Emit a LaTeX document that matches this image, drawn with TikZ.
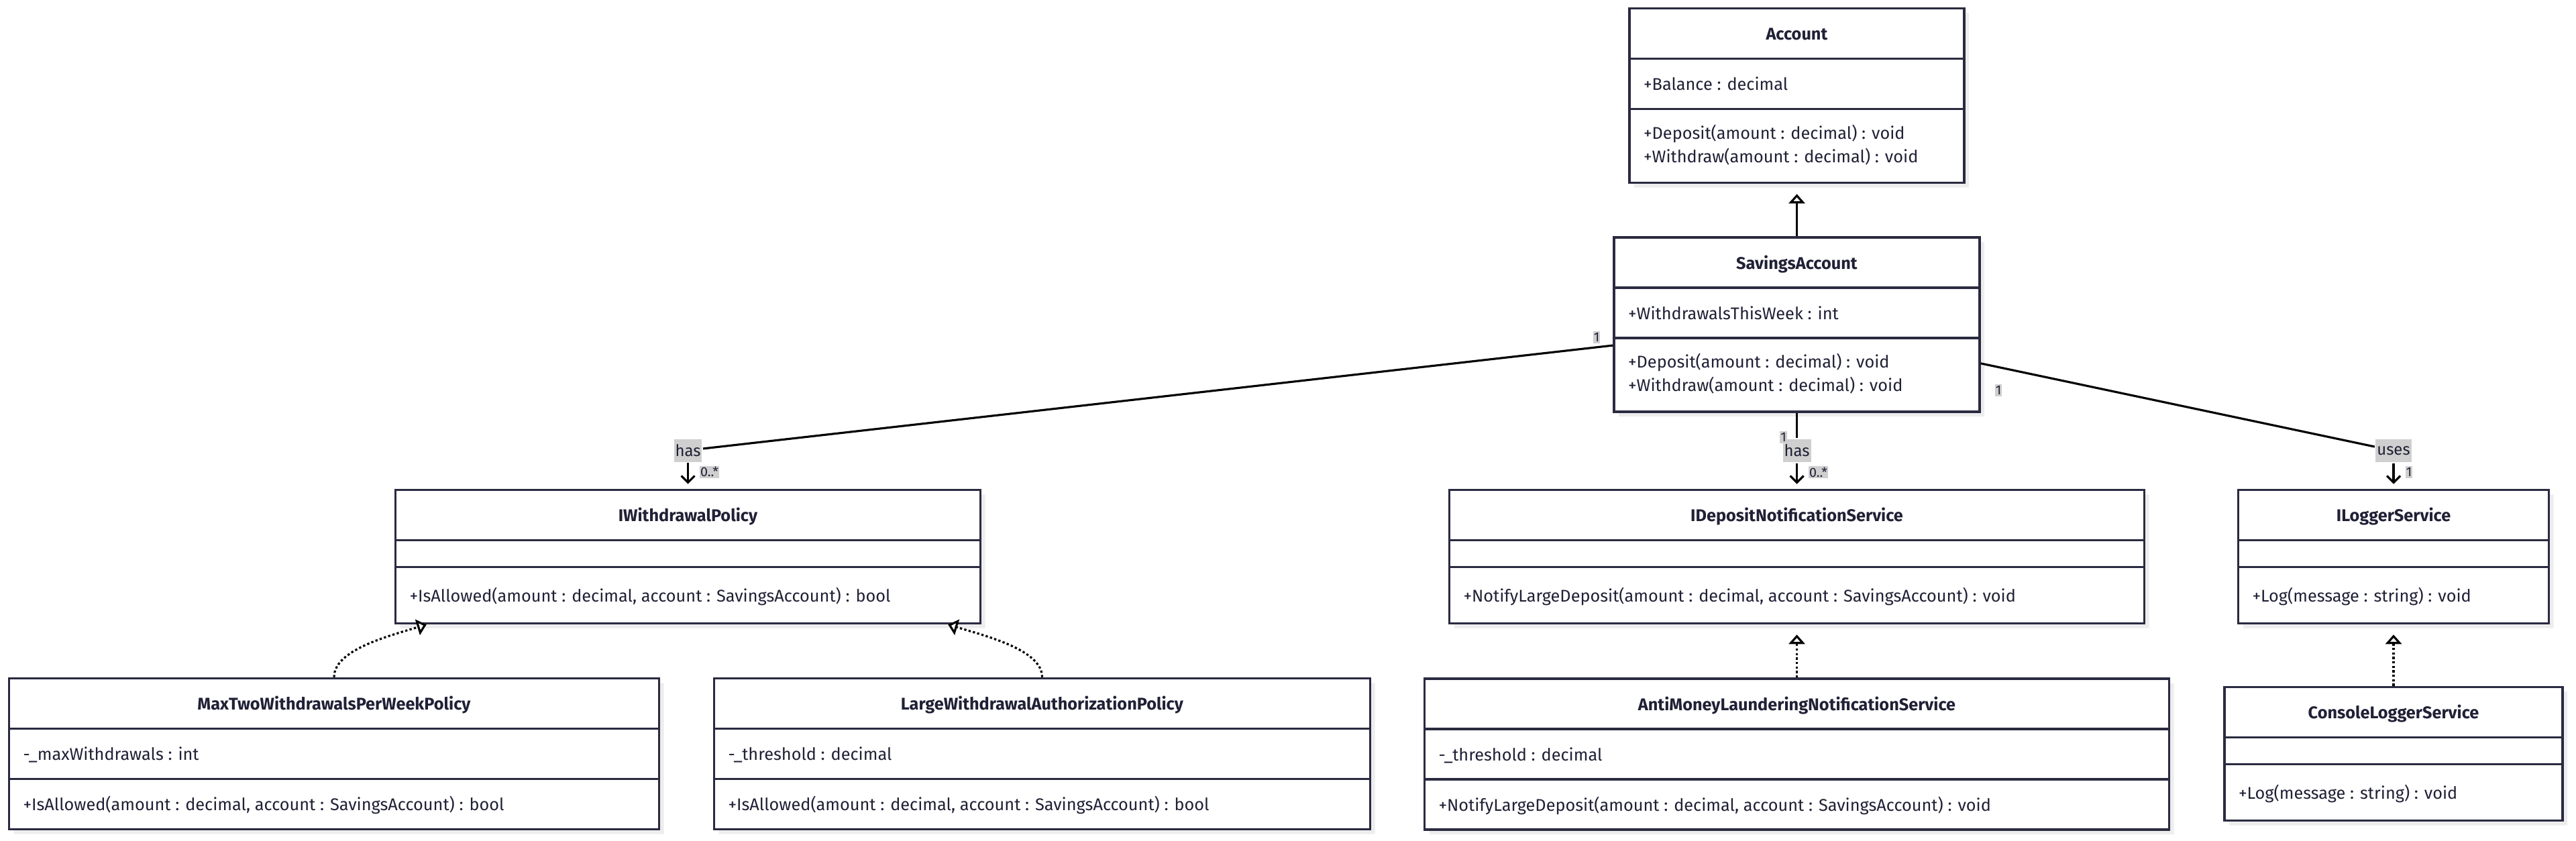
\documentclass[tikz,border=0pt]{standalone}
\usepackage{fontspec}
\setmainfont{Fira Sans}
\usetikzlibrary{arrows.meta, positioning, shapes.multipart, shadows}
\definecolor{classline}{HTML}{2A2A40}
\definecolor{classtext}{HTML}{202036}
\definecolor{labelgray}{HTML}{CFCFCF}
\newcommand{\partstrut}{\rule[-0.262cm]{0pt}{0.715cm}}
\newcommand{\ifacestrut}{\rule[-0.307cm]{0pt}{0.805cm}}
\newcommand{\emptystrut}{\rule{0pt}{0.365cm}}

\begin{document}
\begin{tikzpicture}[auto, node distance=2cm, >={Straight Barb[length=0.1cm, width=0.2cm]}, line width=0.9pt]
        % Definición de estilos para las clases y las etiquetas
        \tikzstyle{classbox} = [draw=classline, line width=1pt, fill=white, text=classtext,
          rectangle split, rectangle split parts=3, rectangle split part align={center, left, left},
          rectangle split empty part height=0.365cm, rectangle split empty part depth=0pt,
          inner xsep=0.21cm, inner ysep=0pt, font=\fontsize{7.2pt}{9.96pt}\selectfont,
          drop shadow={shadow xshift=0.07cm, shadow yshift=-0.07cm, fill=black!7, opacity=1}]
        \tikzstyle{tag} = [fill=labelgray, text=classtext, inner xsep=0.02cm, inner ysep=0pt, minimum height=0.34cm, font=\fontsize{6.8pt}{8pt}\selectfont]
        \tikzstyle{mult} = [fill=labelgray, text=classtext, inner xsep=0.01cm, inner ysep=0pt, minimum height=0.18cm, font=\fontsize{5.6pt}{6pt}\selectfont]
        \tikzstyle{association} = [->, black, shorten >=0.07cm]
        \tikzstyle{inheritance} = [-{Triangle[fill=white, length=0.14cm, width=0.24cm]}, black]
        \tikzstyle{realization} = [inheritance, dash pattern=on 0.95pt off 0.95pt]

        \useasboundingbox (0,0) rectangle (38.4,-12.53);

        % Nodes
        \node [classbox, minimum width=4.99cm] at (26.785,-1.425) (account) {\partstrut\textbf{Account}
          \nodepart{two}\partstrut +Balance : decimal
          \nodepart{three}\begin{tabular}{@{}l@{}}\rule{0pt}{0.4275cm}+Deposit(amount : decimal) : void\\\rule[-0.2875cm]{0pt}{0pt}+Withdraw(amount : decimal) : void\end{tabular}};
        \node [classbox, minimum width=5.45cm, on grid, below=3.415cm of account] (savings) {\partstrut\textbf{SavingsAccount}
          \nodepart{two}\partstrut +WithdrawalsThisWeek : int
          \nodepart{three}\begin{tabular}{@{}l@{}}\rule{0pt}{0.4275cm}+Deposit(amount : decimal) : void\\\rule[-0.2875cm]{0pt}{0pt}+Withdraw(amount : decimal) : void\end{tabular}};
        \node [classbox, minimum width=10.36cm, on grid, below=3.46cm of savings] (ideposit) {\partstrut\textbf{IDepositNotificationService}
          \nodepart{two}\emptystrut
          \nodepart{three}\ifacestrut +NotifyLargeDeposit(amount : decimal, account : SavingsAccount) : void};
        \node [classbox, minimum width=8.72cm, on grid, left=16.53cm of ideposit] (iwithdrawal) {\partstrut\textbf{IWithdrawalPolicy}
          \nodepart{two}\emptystrut
          \nodepart{three}\ifacestrut +IsAllowed(amount : decimal, account : SavingsAccount) : bool};
        \node [classbox, minimum width=4.63cm, on grid, right=8.895cm of ideposit] (ilogger) {\partstrut\textbf{ILoggerService}
          \nodepart{two}\emptystrut
          \nodepart{three}\ifacestrut +Log(message : string) : void};
        \node [classbox, minimum width=9.69cm, on grid, below left=2.94cm and 5.275cm of iwithdrawal] (maxtwo) {\partstrut\textbf{MaxTwoWithdrawalsPerWeekPolicy}
          \nodepart{two}\partstrut -\_maxWithdrawals : int
          \nodepart{three}\partstrut +IsAllowed(amount : decimal, account : SavingsAccount) : bool};
        \node [classbox, minimum width=9.78cm, on grid, below right=2.94cm and 5.28cm of iwithdrawal] (largewithdrawal) {\partstrut\textbf{LargeWithdrawalAuthorizationPolicy}
          \nodepart{two}\partstrut -\_threshold : decimal
          \nodepart{three}\partstrut +IsAllowed(amount : decimal, account : SavingsAccount) : bool};
        \node [classbox, minimum width=11.1cm, on grid, below=2.945cm of ideposit] (antimoney) {\partstrut\textbf{AntiMoneyLaunderingNotificationService}
          \nodepart{two}\partstrut -\_threshold : decimal
          \nodepart{three}\partstrut +NotifyLargeDeposit(amount : decimal, account : SavingsAccount) : void};
        \node [classbox, minimum width=5.04cm, on grid, below=2.94cm of ilogger] (consolelogger) {\partstrut\textbf{ConsoleLoggerService}
          \nodepart{two}\emptystrut
          \nodepart{three}\ifacestrut +Log(message : string) : void};

        \node [tag, on grid, above=1.585cm of iwithdrawal] (hasPolicy) {has};
        \node [tag, on grid, above=1.58cm of ideposit] (hasDeposit) {has};
        \node [tag, on grid, above=1.58cm of ilogger] (usesLogger) {uses};
        \node [mult, on grid, below left=0.19cm and 2.985cm of savings] (multPolicyFrom) {1};
        \node [mult, on grid, below right=0.32cm and 0.32cm of hasPolicy] (multPolicyTo) {0..*};
        \node [mult, on grid, above left=0.2cm and 0.2cm of hasDeposit] (multDepositFrom) {1};
        \node [mult, on grid, below right=0.32cm and 0.32cm of hasDeposit] (multDepositTo) {0..*};
        \node [mult, on grid, below right=0.98cm and 3.005cm of savings] (multLoggerFrom) {1};
        \node [mult, on grid, below right=0.32cm and 0.23cm of usesLogger] (multLoggerTo) {1};

        % Lines
        \draw [inheritance, shorten >=0.15cm] (savings) -- (account);
        \draw (savings) -- (hasPolicy);
        \draw [association] (hasPolicy) -- (iwithdrawal);
        \draw (savings) -- (hasDeposit);
        \draw [association] (hasDeposit) -- (ideposit);
        \draw (savings) -- (usesLogger);
        \draw [association] (usesLogger) -- (ilogger);
        \draw [realization] (maxtwo.north) .. controls +(0,0.4) and +(-0.6,-0.18) .. ([xshift=0.48cm]iwithdrawal.south west);
        \draw [realization] (largewithdrawal.north) .. controls +(0,0.4) and +(0.6,-0.18) .. ([xshift=-0.5cm]iwithdrawal.south east);
        \draw [realization, shorten >=0.15cm] (antimoney) -- (ideposit);
        \draw [realization, shorten >=0.15cm] (consolelogger) -- (ilogger);

      \end{tikzpicture}
\end{document}
